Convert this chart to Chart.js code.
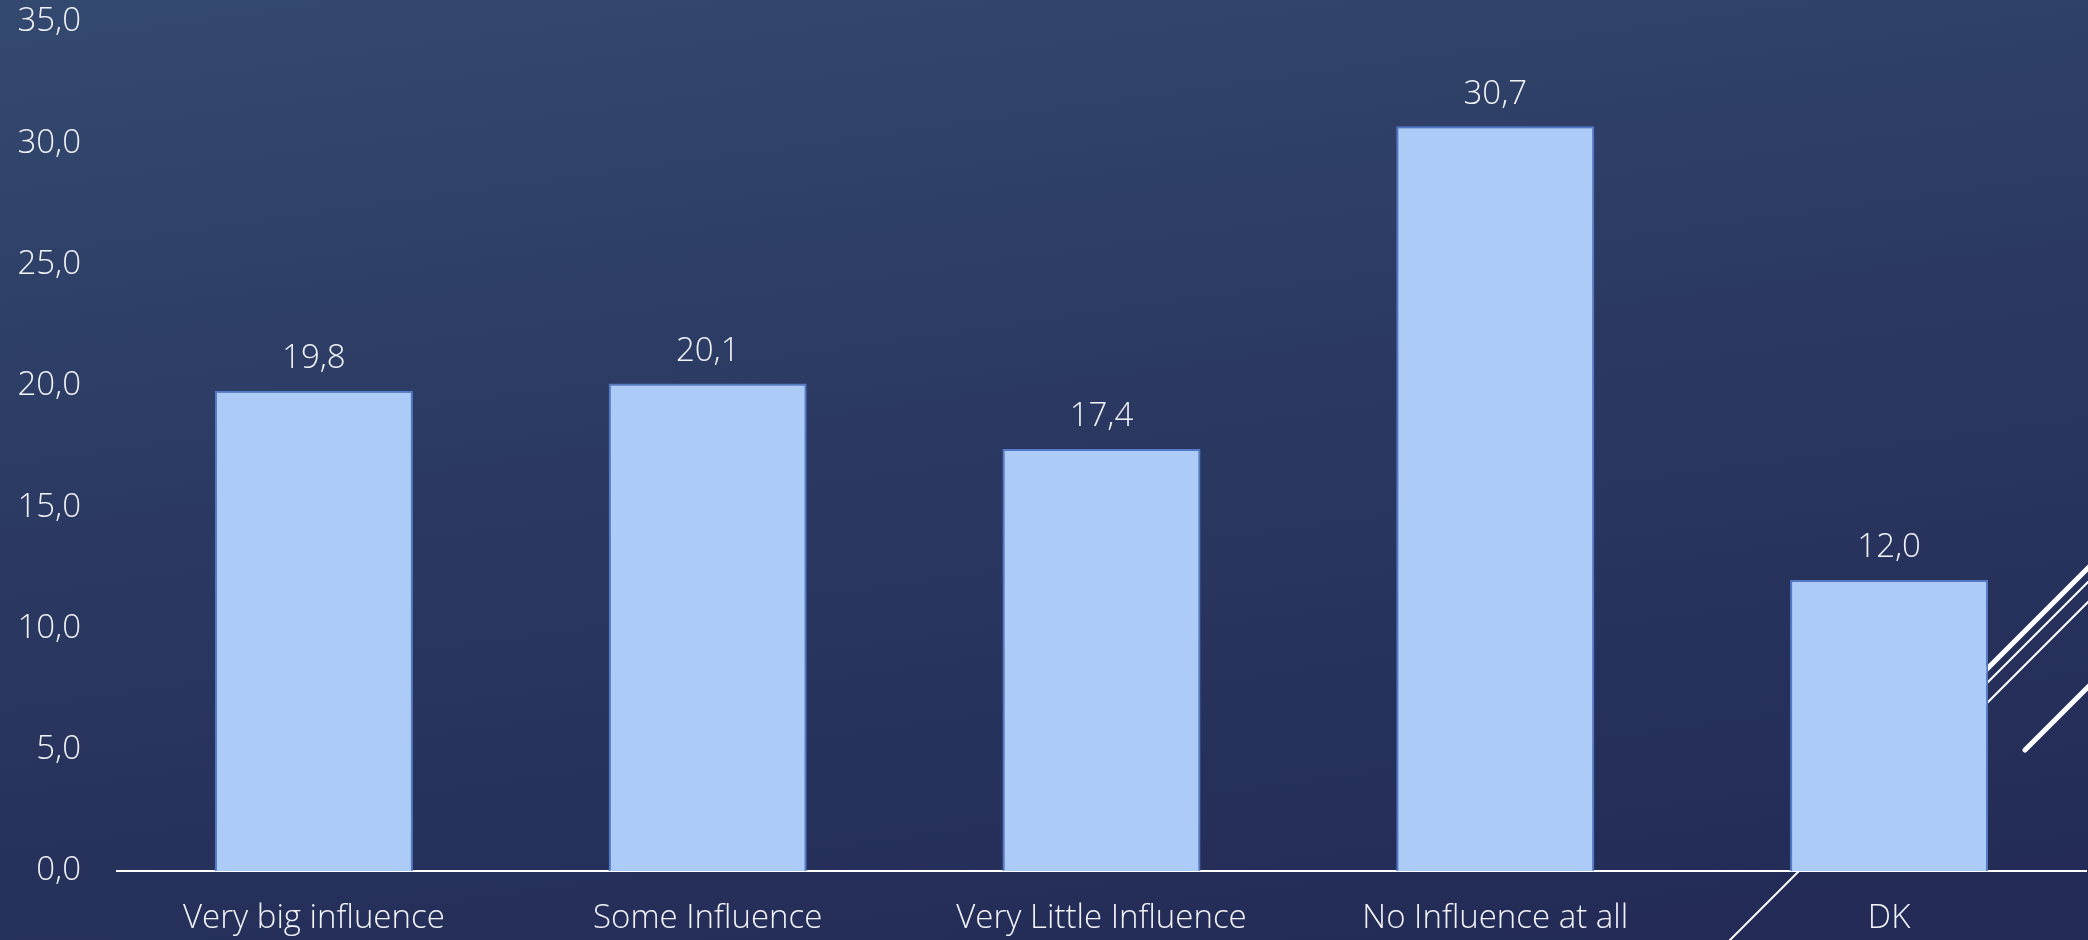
<!DOCTYPE html>
<html>
<head>
<meta charset="utf-8">
<script src="https://cdn.jsdelivr.net/npm/chart.js@4.4.1/dist/chart.umd.min.js"></script>
<style>
	html, body { margin: 0; padding: 0; overflow: hidden; }
	body {
		width: 2088px;
		height: 940px;
		background: linear-gradient(172deg, #34496f 0%, #2b3962 45%, #222a55 100%);
	}
	#wrap { width: 2088px; height: 940px; position: relative; }
</style>
</head>
<body>
<div id="wrap"><canvas id="influenceChart" width="2088" height="940"></canvas></div>
<script>
// data
const categories = ["Very big influence", "Some Influence", "Very Little Influence", "No Influence at all", "DK"];
const shareValues = [19.8, 20.1, 17.4, 30.7, 12.0];
const yTicks = [0, 5, 10, 15, 20, 25, 30, 35];

const fontFamily = "'Open Sans', 'Noto Sans', sans-serif";
const textColor = "#f2f4f8";
const fontSize = 33;

function commaFormat(v) {
	return Number(v).toFixed(1).replace(".", ",");
}

// slide decoration lines (behind the bars)
const decorationPlugin = {
	id: "decoration",
	beforeDatasetsDraw(chart) {
		const ctx = chart.ctx;
		ctx.save();
		ctx.strokeStyle = "#ffffff";
		ctx.lineCap = "round";
		ctx.lineWidth = 2;
		ctx.beginPath();
		ctx.moveTo(1720, 950);
		ctx.lineTo(2098, 572);
		ctx.stroke();
		ctx.beginPath();
		ctx.moveTo(1900, 790);
		ctx.lineTo(2098, 592);
		ctx.stroke();
		ctx.lineWidth = 5;
		ctx.beginPath();
		ctx.moveTo(1900, 756);
		ctx.lineTo(2098, 558);
		ctx.stroke();
		ctx.beginPath();
		ctx.moveTo(2025, 750);
		ctx.lineTo(2098, 677);
		ctx.stroke();
		ctx.restore();
	},
};

// value labels above bars
const valueLabelPlugin = {
	id: "valueLabels",
	afterDatasetsDraw(chart) {
		const ctx = chart.ctx;
		const meta = chart.getDatasetMeta(0);
		ctx.save();
		ctx.font = "300 " + fontSize + "px " + fontFamily;
		ctx.fillStyle = textColor;
		ctx.textAlign = "center";
		ctx.textBaseline = "middle";
		meta.data.forEach((bar, i) => {
			ctx.fillText(commaFormat(chart.data.datasets[0].data[i]), bar.x, bar.y - 32);
		});
		ctx.restore();
	},
};

const influenceCtx = document.getElementById("influenceChart");
var influenceChart = new Chart(influenceCtx, {
	type: "bar",
	data: {
		labels: categories,
		datasets: [
			{
				label: "",
				data: shareValues,
				backgroundColor: "#adcbf7",
				borderColor: "#5279c6",
				borderWidth: 2,
				borderSkipped: "bottom",
				categoryPercentage: 1.0,
				barPercentage: 0.503,
			},
		],
	},
	options: {
		responsive: false,
		animation: false,
		layout: { padding: { top: 0, right: 2, left: 0, bottom: 0 } },
		plugins: {
			legend: { display: false },
			tooltip: { enabled: false },
		},
		scales: {
			x: {
				grid: { display: false, drawTicks: false },
				border: { display: true, color: "#ffffff", width: 2 },
				ticks: {
					color: textColor,
					font: { family: fontFamily, size: fontSize, weight: 300 },
					padding: 28,
					maxRotation: 0,
				},
				afterFit: (scale) => {
					scale.height = 69;
				},
			},
			y: {
				min: 0,
				max: 35,
				grid: { display: false, drawTicks: false },
				border: { display: false },
				afterBuildTicks: (scale) => {
					scale.ticks = yTicks.map((v) => ({ value: v }));
				},
				ticks: {
					color: textColor,
					font: { family: fontFamily, size: fontSize, weight: 300 },
					padding: 36,
					callback: (v) => commaFormat(v),
				},
				afterFit: (scale) => {
					scale.width = 117;
					scale.paddingTop = 22;
					scale.paddingBottom = 0;
				},
			},
		},
	},
	plugins: [decorationPlugin, valueLabelPlugin],
});
</script>
</body>
</html>
